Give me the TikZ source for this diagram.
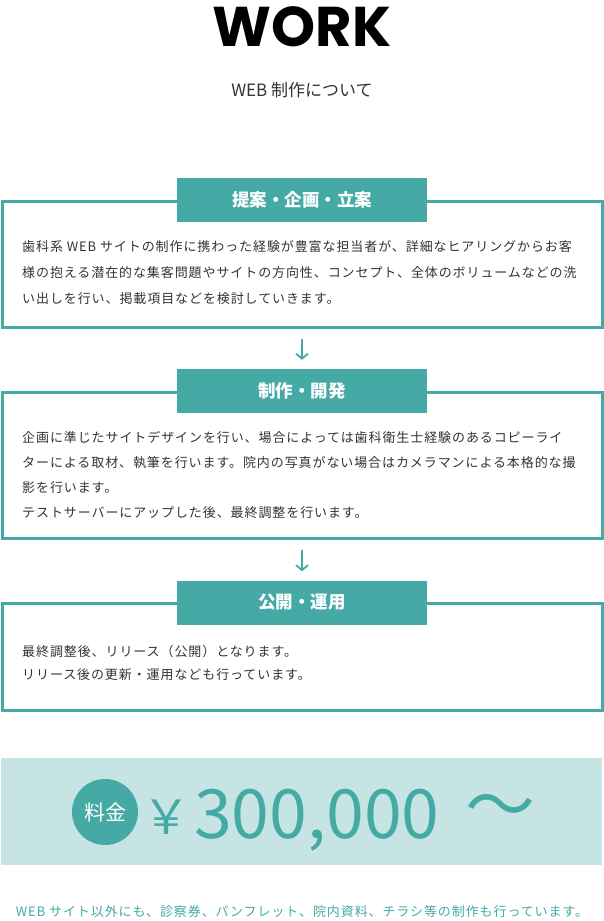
\documentclass[tikz,border=0pt]{standalone}
\usepackage{fontspec}
\setmainfont{Noto Sans CJK JP}
\newfontfamily\bodyfont{Noto Sans CJK JP}[LetterSpace=7]
\newfontfamily\logofont{Poppins}
\usepackage{xcolor}
\usetikzlibrary{positioning,arrows.meta}
\definecolor{teal1}{HTML}{45AAA5}
\definecolor{tealbg}{HTML}{C6E4E3}
\definecolor{ink}{HTML}{333333}

\begin{document}
\begin{tikzpicture}[x=1pt, y=-1pt,
  frame/.style={draw=teal1, line width=3pt, minimum width=600pt, inner sep=0pt},
  tab/.style={fill=teal1, text=white, minimum width=250pt, minimum height=44pt, inner sep=0pt,
    font=\bfseries\fontsize{17.5}{17.5}\selectfont},
  body/.style={anchor=north west, inner sep=0pt, align=left, text=ink},
  arr/.style={draw=teal1, line width=1.8pt, shorten <=10pt, shorten >=9pt,
    -{Straight Barb[length=5pt, width=12pt]}}]
\useasboundingbox (0,0) rectangle (604,921);
% title
\node[inner sep=0pt, font=\logofont\bfseries\fontsize{56}{56}\selectfont] (title) at (302,27) {WORK};
\node[inner sep=0pt, text=ink, font=\fontsize{17}{17}\selectfont] (subtitle) at (302,90) {WEB 制作について};
% steps
\node[frame, minimum height=126pt] (plan) at (302,264) {};
\node[frame, minimum height=146pt] (build) at (302,465) {};
\node[frame, minimum height=107pt] (launch) at (302,656.5) {};
\node[tab] (plantab) at (302,200) {提案・企画・立案};
\node[tab] (buildtab) at (302,391) {制作・開発};
\node[tab] (launchtab) at (302,602.5) {公開・運用};
\node[body, font=\bodyfont\fontsize{13}{26}\selectfont] (plantext) at (22,240.6)
  {歯科系 WEB サイトの制作に携わった経験が豊富な担当者が、詳細なヒアリングからお客\\
   様の抱える潜在的な集客問題やサイトの方向性、コンセプト、全体のボリュームなどの洗\\
   い出しを行い、掲載項目などを検討していきます。};
\node[body, font=\bodyfont\fontsize{13}{25}\selectfont] (buildtext) at (22,431.6)
  {企画に準じたサイトデザインを行い、場合によっては歯科衛生士経験のあるコピーライ\\
   ターによる取材、執筆を行います。院内の写真がない場合はカメラマンによる本格的な撮\\
   影を行います。\\
   テストサーバーにアップした後、最終調整を行います。};
\node[body, font=\bodyfont\fontsize{13}{23}\selectfont] (launchtext) at (22,645.6)
  {最終調整後、リリース（公開）となります。\\
   リリース後の更新・運用なども行っています。};
\draw[arr] (plan.south) -- (buildtab.north);
\draw[arr] (build.south) -- (launchtab.north);
% price
\node[fill=tealbg, minimum width=601pt, minimum height=107pt, inner sep=0pt] (band) at (301.5,811.5) {};
\node[circle, fill=teal1, minimum size=66pt, inner sep=0pt, text=white,
  font=\fontsize{21}{21}\selectfont] (fee) at (105,812) {料金};
\node[inner sep=0pt, text=teal1, font=\fontsize{48}{48}\selectfont] (yen) at (166,817) {￥};
\node[anchor=base west, inner sep=0pt, text=teal1, font=\fontsize{68}{68}\selectfont] (amount) at (194,838) {300,000};
\node[inner sep=0pt, text=teal1, font=\fontsize{70}{70}\selectfont] (tilde) at (500,812) {〜};
\node[inner sep=0pt, text=teal1, font=\bodyfont\fontsize{13}{13}\selectfont] (note) at (302,912)
  {WEB サイト以外にも、診察券、パンフレット、院内資料、チラシ等の制作も行っています。};
\end{tikzpicture}
\end{document}
